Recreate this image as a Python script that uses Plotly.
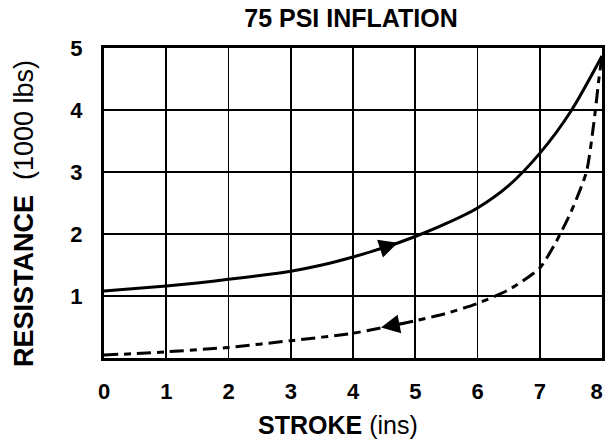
import numpy as np
import plotly.graph_objects as go

# Data
stroke_in = [0, 0.5, 1, 1.5, 2, 2.5, 3, 3.5, 4, 4.5, 5, 5.5, 6, 6.5, 7, 7.5, 8]
resist_in = [1.08, 1.12, 1.16, 1.21, 1.27, 1.33, 1.40, 1.50, 1.63, 1.78, 1.96, 2.17, 2.42, 2.78, 3.3, 3.98, 4.87]

stroke_out = [0, 0.5, 1, 2, 3, 4, 5, 5.5, 6, 6.5, 7, 7.25, 7.5, 7.75, 7.87, 7.95, 8]
resist_out = [0.05, 0.07, 0.10, 0.17, 0.28, 0.40, 0.60, 0.72, 0.88, 1.10, 1.45, 1.85, 2.35, 3.0, 3.8, 4.5, 4.87]

x_ticks = [0, 1, 2, 3, 4, 5, 6, 7, 8]
y_ticks = [1, 2, 3, 4, 5]

title_text = "75 PSI INFLATION"
x_title = "<b>STROKE</b> (ins)"
y_title = "<b>RESISTANCE</b>  (1000 lbs)"

FONT = "Liberation Sans, Arial, sans-serif"

fig = go.Figure()
fig.add_trace(go.Scatter(x=stroke_in, y=resist_in, mode="lines",
                         line=dict(color="black", width=3, shape="spline", smoothing=0.8),
                         showlegend=False, cliponaxis=False, hoverinfo="skip"))
fig.add_trace(go.Scatter(x=stroke_out, y=resist_out, mode="lines",
                         line=dict(color="black", width=3, shape="spline", smoothing=0.6,
                                   dash="14px,6px,7px,6px"),
                         showlegend=False, cliponaxis=False, hoverinfo="skip"))

# direction arrows placed on the curves
def arrow(xs, ys, x_tip, x_tail):
    fig.add_annotation(x=x_tip, y=float(np.interp(x_tip, xs, ys)),
                       ax=x_tail, ay=float(np.interp(x_tail, xs, ys)),
                       xref="x", yref="y", axref="x", ayref="y",
                       text="", showarrow=True, arrowhead=2, arrowsize=1.5,
                       arrowwidth=2.5, arrowcolor="black")

arrow(stroke_in, resist_in, 4.72, 4.3)
arrow(stroke_out, resist_out, 4.45, 4.85)

# last x label nudged inward (trailing en space) so it stays on the page
x_ticktext = [f"<b>{v}</b>" for v in x_ticks]
x_ticktext[-1] = x_ticktext[-1] + "\u2002"

fig.update_layout(
    width=605, height=442,
    margin=dict(l=104, r=3, t=48, b=84),
    paper_bgcolor="white", plot_bgcolor="white",
    font=dict(family=FONT, color="black", size=22),
    title=dict(text="<b>" + title_text + "</b>", x=351 / 605, xanchor="center",
               y=1 - 18 / 442, yanchor="middle", font=dict(size=25)),
)
fig.update_xaxes(range=[0, 8], tickvals=x_ticks, ticktext=x_ticktext,
                 showgrid=True, gridcolor="black", gridwidth=1.8,
                 showline=True, linecolor="black", linewidth=3, mirror=True,
                 zeroline=False, ticks="", ticklabelstandoff=12, automargin=False,
                 ticklabeloverflow="allow", tickfont=dict(size=22))
fig.update_yaxes(range=[0, 5], tickvals=y_ticks, ticktext=[f"<b>{v}</b>" for v in y_ticks],
                 showgrid=True, gridcolor="black", gridwidth=1.8,
                 showline=True, linecolor="black", linewidth=3, mirror=True,
                 zeroline=False, ticks="", ticklabelstandoff=14, automargin=False,
                 ticklabeloverflow="allow", tickfont=dict(size=22))

# axis titles
fig.add_annotation(text=x_title, xref="paper", yref="paper",
                   x=(338 - 104) / 498, y=-(425 - 358) / 310,
                   xanchor="center", yanchor="middle", showarrow=False,
                   font=dict(size=25))
fig.add_annotation(text=y_title, xref="paper", yref="paper",
                   x=-(104 - 24) / 498, y=(358 - 214) / 310, textangle=-90,
                   xanchor="center", yanchor="middle", showarrow=False,
                   font=dict(size=27))

fig.write_html("out.html", config={"displayModeBar": False, "staticPlot": True},
               post_script="document.body.style.margin='0px';")
